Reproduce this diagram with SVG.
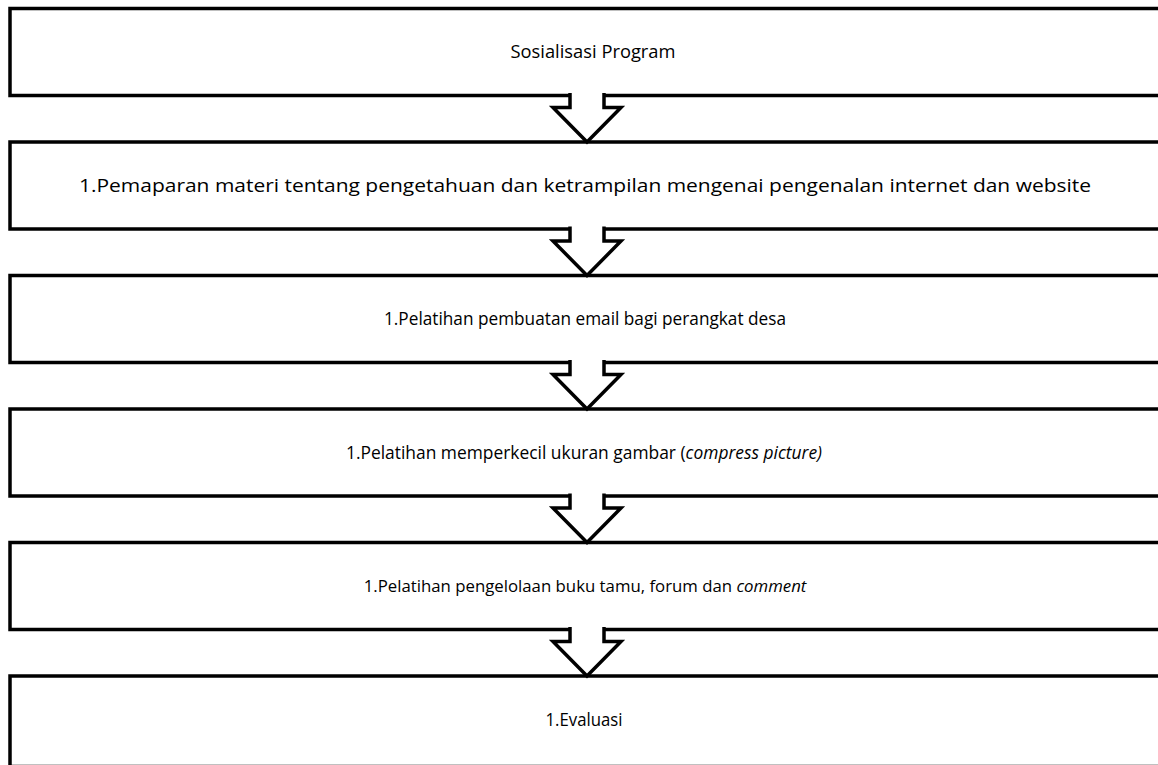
<svg xmlns="http://www.w3.org/2000/svg" width="1158" height="765" viewBox="0 0 1158 765">
<style>
.box{fill:#fff;stroke:#000;stroke-width:3.5}
.arr{fill:#fff;stroke:#000;stroke-width:3.5;stroke-linejoin:miter}
.t{font-family:"Open Sans","Liberation Sans",sans-serif;font-size:18px;fill:#000;text-anchor:middle}
.i{font-style:italic}
</style>
<rect width="1158" height="765" fill="#fff"/>
<g id="node1"><rect class="box" x="10" y="8.5" width="1160" height="87"/><text class="t" x="593" y="58" textLength="165" lengthAdjust="spacingAndGlyphs">Sosialisasi Program</text></g>
<g id="node2"><rect class="box" x="10" y="142" width="1160" height="87"/><text class="t" x="585" y="191.5" textLength="1012" lengthAdjust="spacingAndGlyphs">1.Pemaparan materi tentang pengetahuan dan ketrampilan mengenai pengenalan internet dan website</text></g>
<g id="node3"><rect class="box" x="10" y="275.5" width="1160" height="87"/><text class="t" x="585" y="325" textLength="402" lengthAdjust="spacingAndGlyphs">1.Pelatihan pembuatan email bagi perangkat desa</text></g>
<g id="node4"><rect class="box" x="10" y="409" width="1160" height="87"/><text class="t" x="584" y="458.5" style="font-size:17.4px">1.Pelatihan memperkecil ukuran gambar (<tspan class="i">compress picture)</tspan></text></g>
<g id="node5"><rect class="box" x="10" y="542.5" width="1160" height="87"/><text class="t" x="585" y="592" style="font-size:16.8px">1.Pelatihan pengelolaan buku tamu, forum dan <tspan class="i">comment</tspan></text></g>
<g id="node6"><rect class="box" x="10" y="676" width="1160" height="90.5"/><text class="t" x="584" y="725.5" textLength="77" lengthAdjust="spacingAndGlyphs">1.Evaluasi</text></g>
<g id="connectors">
<path class="arr" d="M570,93 V107.5 H553 L587,142 L621,107.5 H604 V93"/>
<path class="arr" d="M570,226.5 V241 H553 L587,275.5 L621,241 H604 V226.5"/>
<path class="arr" d="M570,360 V374.5 H553 L587,409 L621,374.5 H604 V360"/>
<path class="arr" d="M570,493.5 V508 H553 L587,542.5 L621,508 H604 V493.5"/>
<path class="arr" d="M570,627 V641.5 H553 L587,676 L621,641.5 H604 V627"/>
</g>
</svg>
